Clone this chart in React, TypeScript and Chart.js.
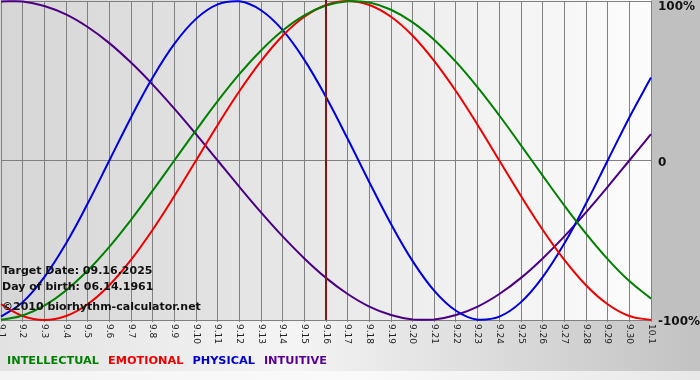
import { useEffect, useRef } from "react";
import { Chart, registerables } from "chart.js";

Chart.register(...registerables);

const dayLabels = [
  "9.1", "9.2", "9.3", "9.4", "9.5", "9.6", "9.7", "9.8", "9.9", "9.10",
  "9.11", "9.12", "9.13", "9.14", "9.15", "9.16", "9.17", "9.18", "9.19", "9.20",
  "9.21", "9.22", "9.23", "9.24", "9.25", "9.26", "9.27", "9.28", "9.29", "9.30", "10.1",
];

const physical = [
  -97.9, -88.8, -73.1, -52.0, -27.0, 0, 27.0, 52.0, 73.1, 88.8, 97.9, 99.8, 94.2, 81.7, 63.1, 39.8,
  13.6, -13.6, -39.8, -63.1, -81.7, -94.2, -99.8, -97.9, -88.8, -73.1, -52.0, -27.0, 0, 27.0, 52.0,
];

const emotional = [
  -90.1, -97.5, -100, -97.5, -90.1, -78.2, -62.3, -43.4, -22.3, 0, 22.3, 43.4, 62.3, 78.2, 90.1, 97.5,
  100, 97.5, 90.1, 78.2, 62.3, 43.4, 22.3, 0, -22.3, -43.4, -62.3, -78.2, -90.1, -97.5, -100,
];

const intellectual = [
  -99.9, -97.2, -91.0, -81.5, -69.0, -54.1, -37.2, -18.9, 0, 18.9, 37.2, 54.1, 69.0, 81.5, 91.0, 97.2,
  99.9, 99.0, 94.5, 86.6, 75.6, 61.8, 45.8, 28.2, 9.5, -9.5, -28.2, -45.8, -61.8, -75.6, -86.6,
];

const intuitive = [
  99.7, 99.7, 96.9, 91.6, 83.7, 73.6, 61.4, 47.6, 32.5, 16.5, 0, -16.5, -32.5, -47.6, -61.4, -73.6,
  -83.7, -91.6, -96.9, -99.7, -99.7, -96.9, -91.6, -83.7, -73.6, -61.4, -47.6, -32.5, -16.5, 0, 16.5,
];

const yTickValues = [100, 0, -100];
const yTickLabels = ["100%", "0", "-100%"];
const targetDay = "9.16";
const infoLines = [
  "Target Date: 09.16.2025",
  "Day of birth: 06.14.1961",
  "\u00A92010 biorhythm-calculator.net",
];
const legendNames = ["INTELLECTUAL", "EMOTIONAL", "PHYSICAL", "INTUITIVE"];

const COLORS = {
  intellectual: "#008000",
  emotional: "#ee0000",
  physical: "#0000dd",
  intuitive: "#4b0082",
};
const legendColors = ["#008000", "#ee0000", "#0000cc", "#5a0090"];

const bioPlugin = {
  id: "bioDecor",
  beforeDraw(chart: any) {
    const { ctx, chartArea, width, height } = chart;
    const { left, top, right, bottom } = chartArea;
    ctx.save();
    ctx.fillStyle = "#c0c0c0";
    ctx.fillRect(0, 0, width, height);
    const bg = ctx.createLinearGradient(0, 0, width, 0);
    bg.addColorStop(0, "#e2e2e2");
    bg.addColorStop(0.42, "#f4f4f4");
    bg.addColorStop(1, "#c2c2c2");
    ctx.fillStyle = bg;
    ctx.fillRect(0, bottom, width, height - bottom);
    const bg2 = ctx.createLinearGradient(0, 0, width, 0);
    bg2.addColorStop(0, "#f4f4f4");
    bg2.addColorStop(0.5, "#fafafa");
    bg2.addColorStop(1, "#e8e8e8");
    ctx.fillStyle = bg2;
    ctx.fillRect(0, height - 9, width, 9);
    const pg = ctx.createLinearGradient(left, 0, right, 0);
    pg.addColorStop(0, "#d6d6d6");
    pg.addColorStop(1, "#fcfcfc");
    ctx.fillStyle = pg;
    ctx.fillRect(left - 1, top - 1, right - left + 1, bottom - top + 1);
    ctx.restore();
  },
  afterDatasetsDraw(chart: any) {
    const { ctx, chartArea, scales } = chart;
    const xi = dayLabels.indexOf(targetDay);
    const x = scales.x.getPixelForValue(xi);
    ctx.save();
    ctx.strokeStyle = "#801818";
    ctx.lineWidth = 2;
    ctx.beginPath();
    ctx.moveTo(x, chartArea.top - 1);
    ctx.lineTo(x, chartArea.bottom);
    ctx.stroke();
    ctx.restore();
  },
  afterDraw(chart: any) {
    const { ctx, chartArea, scales } = chart;
    ctx.save();
    ctx.fillStyle = "#222222";
    ctx.font = "9px 'DejaVu Sans'";
    ctx.textAlign = "left";
    ctx.textBaseline = "middle";
    dayLabels.forEach((lab, i) => {
      const x = scales.x.getPixelForValue(i);
      ctx.save();
      ctx.translate(x, chartArea.bottom + 4);
      ctx.rotate(Math.PI / 2);
      ctx.fillText(lab, 0, 0);
      ctx.restore();
    });
    ctx.fillStyle = "#111111";
    ctx.font = "bold 12px 'DejaVu Sans'";
    ctx.textAlign = "left";
    ctx.textBaseline = "middle";
    yTickValues.forEach((v, i) => {
      let y = scales.y.getPixelForValue(v) + 2;
      if (y < 7) y = 7;
      ctx.fillText(yTickLabels[i], chartArea.right + 7, y);
    });
    ctx.fillStyle = "#111111";
    ctx.font = "bold 11px 'DejaVu Sans'";
    ctx.textBaseline = "middle";
    const infoY = [271, 287, 307];
    infoLines.forEach((t, i) => ctx.fillText(t, 2, infoY[i]));
    ctx.font = "bold 11.3px 'DejaVu Sans'";
    let lx = 7;
    legendNames.forEach((n, i) => {
      ctx.fillStyle = legendColors[i];
      ctx.fillText(n, lx, 361);
      lx += ctx.measureText(n).width + 9;
    });
    ctx.restore();
  },
};

export default function App() {
  const ref = useRef<HTMLCanvasElement | null>(null);
  useEffect(() => {
    if (!ref.current) return;
    const chart = new Chart(ref.current, {
      type: "line",
      data: {
        labels: dayLabels,
        datasets: [
          { label: "INTELLECTUAL", data: intellectual, borderColor: COLORS.intellectual },
          { label: "EMOTIONAL", data: emotional, borderColor: COLORS.emotional },
          { label: "PHYSICAL", data: physical, borderColor: COLORS.physical },
          { label: "INTUITIVE", data: intuitive, borderColor: COLORS.intuitive },
        ].map((d) => ({
          ...d,
          borderWidth: 2,
          pointRadius: 0,
          tension: 0.4,
          fill: false,
          clip: 3,
        })),
      },
      options: {
        responsive: false,
        animation: false,
        events: [],
        layout: { padding: { left: 1, top: 1, right: 49, bottom: 58 } },
        plugins: { legend: { display: false }, tooltip: { enabled: false } },
        scales: {
          x: {
            type: "category",
            offset: false,
            grid: { color: "#808080", lineWidth: 1, drawTicks: true, tickLength: 2 },
            ticks: { display: false },
            border: { display: false },
          },
          y: {
            position: "right",
            min: -100,
            max: 100,
            ticks: { display: false, stepSize: 100 },
            grid: { color: "#808080", lineWidth: 1, drawTicks: false },
            border: { display: false },
          },
        },
      },
      plugins: [bioPlugin],
    });
    return () => chart.destroy();
  }, []);
  return (
    <div style={{ position: "absolute", left: 0, top: 0, width: 700, height: 380 }}>
      <canvas ref={ref} width={700} height={380} style={{ display: "block" }} />
    </div>
  );
}
